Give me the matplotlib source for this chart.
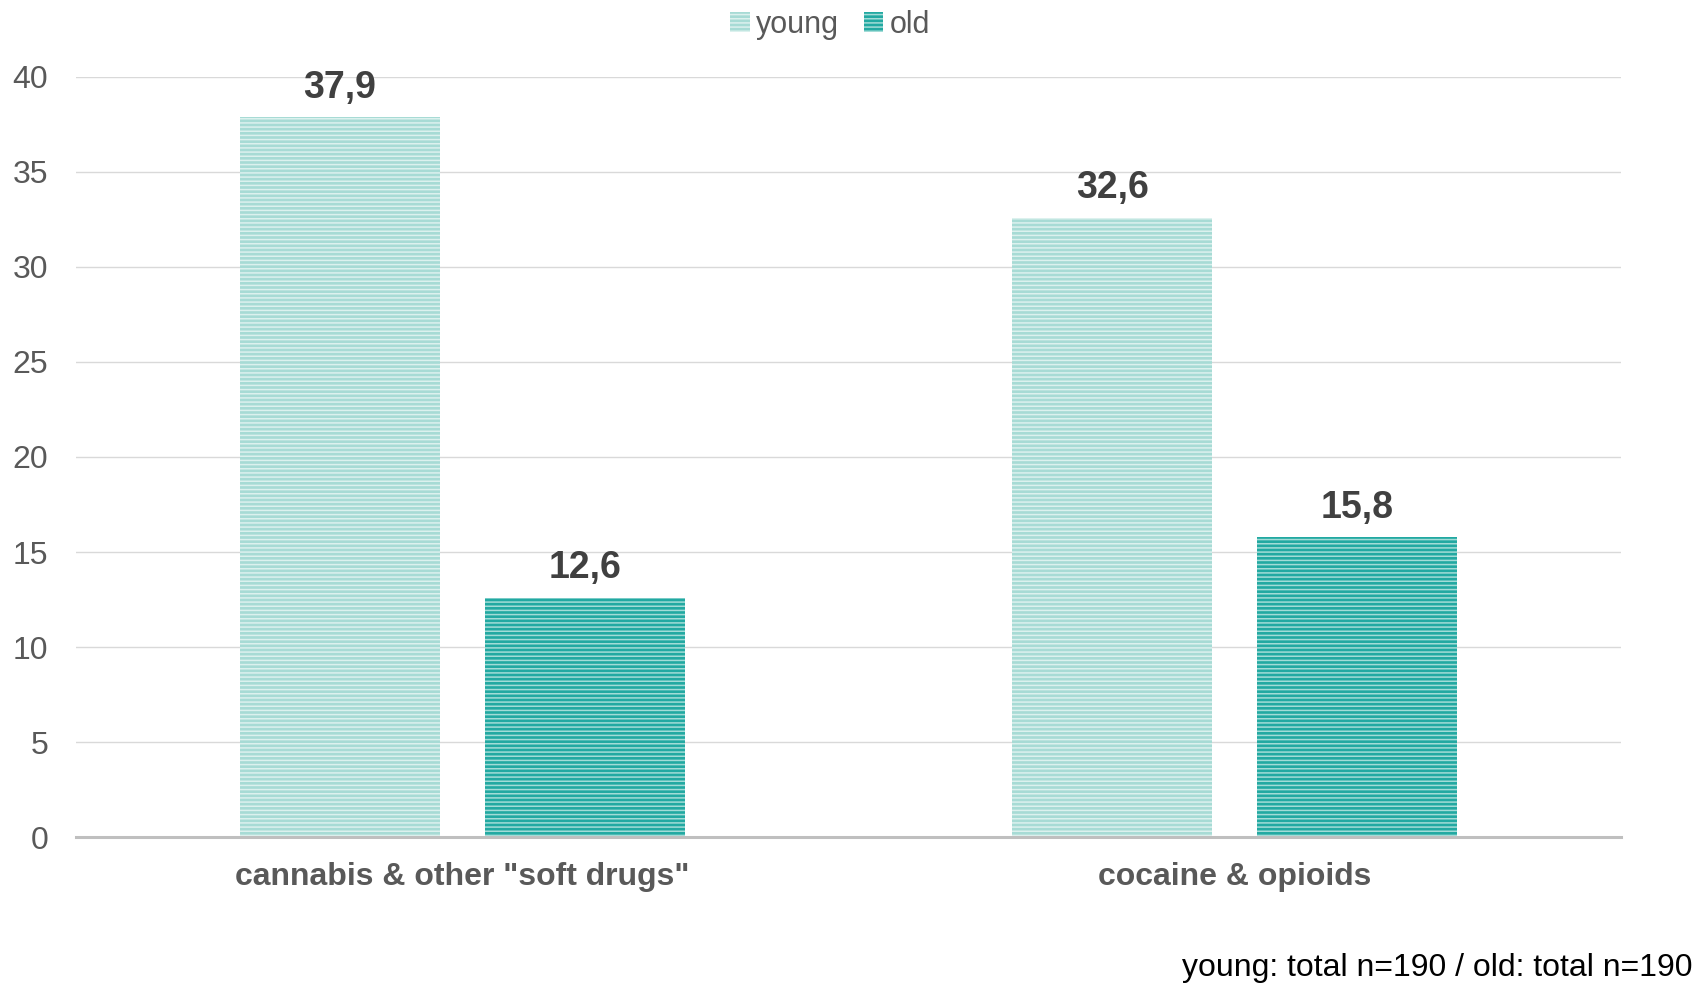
import matplotlib
matplotlib.use("Agg")
import matplotlib.pyplot as plt
import numpy as np

categories = ['cannabis & other "soft drugs"', 'cocaine & opioids']
series_names = ['young', 'old']
young = [37.9, 32.6]
old = [12.6, 15.8]
yticks = [0, 5, 10, 15, 20, 25, 30, 35, 40]
footnote = 'young: total n=190 / old: total n=190'

plt.rcParams['font.family'] = ['Liberation Sans', 'DejaVu Sans']
plt.rcParams['hatch.linewidth'] = 1.1

fig = plt.figure(figsize=(17.08, 9.83), dpi=100)
ax = fig.add_axes([0.0445, 0.1485, 0.9045, 0.7732])

x = np.arange(len(categories))
w = 0.259
off = 0.1585
face = ['#a7dbd5', '#22a9a2']
hatchc = ['#dcf1ee', '#a3dcd7']
for i, (vals, sign) in enumerate([(young, -1), (old, 1)]):
    b = ax.bar(x + sign * off, vals, width=w, color=face[i], edgecolor=hatchc[i],
               linewidth=0, hatch='----', label=series_names[i], zorder=3)
    for rect, v in zip(b, vals):
        ax.annotate(f'{v:.1f}'.replace('.', ','),
                    (rect.get_x() + rect.get_width() / 2, v),
                    xytext=(0, 8), textcoords='offset points',
                    ha='center', va='bottom', fontsize=27, fontweight='bold',
                    color='#404040')

ax.set_xlim(-0.5, 1.5)
ax.set_ylim(0, 40)
ax.set_yticks(yticks)
ax.set_yticklabels([str(t) for t in yticks], fontsize=23, color='#595959')
ax.set_xticks(x)
ax.set_xticklabels(categories, fontsize=23, fontweight='bold', color='#595959')
ax.tick_params(axis='both', length=0)
ax.tick_params(axis='x', pad=18)
ax.tick_params(axis='y', pad=20)
ax.grid(axis='y', color='#d9d9d9', linewidth=1.0, zorder=0)
for s in ['top', 'right', 'left']:
    ax.spines[s].set_visible(False)
ax.spines['bottom'].set_color('#bfbfbf')
ax.spines['bottom'].set_linewidth(2.2)
ax.spines['bottom'].set_zorder(4)

fig.legend(loc='upper center', bbox_to_anchor=(0.486, 1.018), ncol=2, frameon=False,
           fontsize=22, labelcolor='#595959', handlelength=0.65, handleheight=0.65,
           handletextpad=0.2, columnspacing=0.8)

fig.text(0.991, 0.015, footnote, ha='right', va='center', fontsize=23, color='black')

fig.savefig('out.png', dpi=100)
